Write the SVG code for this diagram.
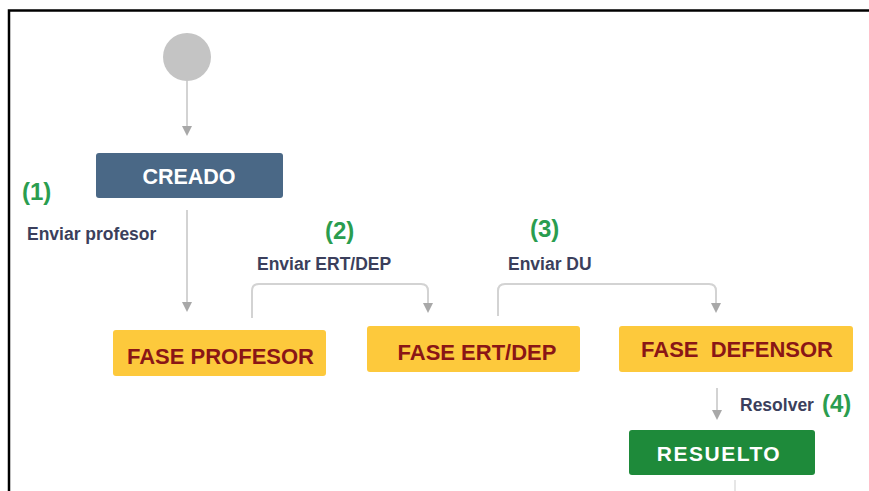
<svg xmlns="http://www.w3.org/2000/svg" width="869" height="491" viewBox="0 0 869 491">
  <style>
    .lbl { font-family: "Liberation Sans", Arial, sans-serif; font-weight: bold; }
    .step { font-size: 24px; fill: #2a9d4f; }
    .tr { font-size: 17.5px; fill: #3b3f5c; }
    .phase rect { fill: #fdc93c; }
    .phase text { font-size: 22px; fill: #8a1616; text-anchor: middle; }
    .wire { fill: none; stroke: #d3d3d3; stroke-width: 2; }
    .head { fill: #a8a8a8; }
  </style>

  <rect width="869" height="491" fill="#ffffff"/>
  <!-- outer frame (top and left edges visible) -->
  <path d="M9,491 V10.5 H869" fill="none" stroke="#000" stroke-width="2.5"/>

  <!-- connectors -->
  <g id="connectors">
    <line class="wire" x1="187" y1="81" x2="187" y2="126"/>
    <path class="head" d="M182,126 L192,126 L187,136 Z"/>
    <line class="wire" x1="187" y1="210" x2="187" y2="302"/>
    <path class="head" d="M182,302 L192,302 L187,312 Z"/>
    <path class="wire" d="M252,318 V291 Q252,284 259,284 H421 Q428,284 428,291 V303"/>
    <path class="head" d="M423,303 L433,303 L428,313 Z"/>
    <path class="wire" d="M498,316 V291 Q498,284 505,284 H709 Q716,284 716,291 V303"/>
    <path class="head" d="M711,303 L721,303 L716,313 Z"/>
    <line class="wire" x1="717" y1="388" x2="717" y2="410"/>
    <path class="head" d="M712,410 L722,410 L717,420 Z"/>
    <line x1="735" y1="480" x2="735" y2="491" stroke="#e6e6e6" stroke-width="2"/>
  </g>

  <!-- initial state -->
  <g id="start">
    <circle cx="187" cy="57" r="24" fill="#c4c4c4"/>
  </g>

  <g id="creado">
    <rect x="96" y="153" width="187" height="45" rx="3" fill="#4a6886"/>
    <text class="lbl" x="189" y="184" font-size="21.5" fill="#ffffff" text-anchor="middle">CREADO</text>
  </g>

  <g id="fase-profesor" class="phase">
    <rect x="113" y="330" width="213" height="46" rx="3"/>
    <text class="lbl" x="220.5" y="364">FASE PROFESOR</text>
  </g>

  <g id="fase-ert-dep" class="phase">
    <rect x="367" y="326" width="213" height="46" rx="3"/>
    <text class="lbl" x="477" y="360">FASE ERT/DEP</text>
  </g>

  <g id="fase-defensor" class="phase">
    <rect x="619" y="326" width="234" height="46" rx="3"/>
    <text class="lbl" x="737" y="357" xml:space="preserve">FASE  DEFENSOR</text>
  </g>

  <g id="resuelto">
    <rect x="629" y="430" width="186" height="45" rx="3" fill="#1e8a3a"/>
    <text class="lbl" x="719" y="461" font-size="21" letter-spacing="1.5" fill="#ffffff" text-anchor="middle">RESUELTO</text>
  </g>

  <!-- transition labels -->
  <g id="labels">
    <text class="lbl step" x="22" y="200">(1)</text>
    <text class="lbl tr" x="27" y="240">Enviar profesor</text>
    <text class="lbl step" x="325" y="239">(2)</text>
    <text class="lbl tr" x="257" y="270" fill="#222">Enviar ERT/DEP</text>
    <text class="lbl step" x="530" y="237">(3)</text>
    <text class="lbl tr" x="508" y="270">Enviar DU</text>
    <text class="lbl tr" x="740" y="411">Resolver</text>
    <text class="lbl step" x="822" y="412">(4)</text>
  </g>
</svg>
